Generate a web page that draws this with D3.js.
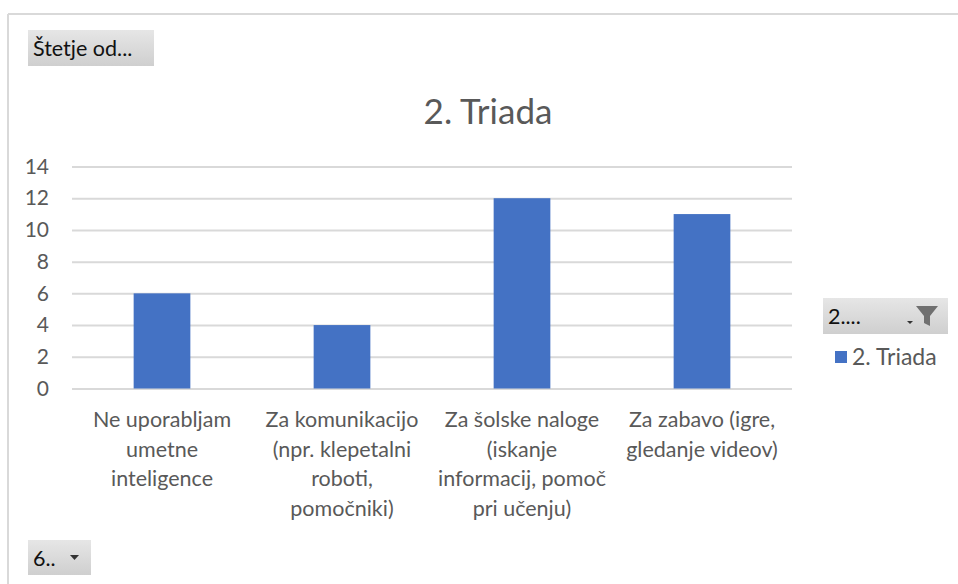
<!DOCTYPE html>
<html>
<head>
<meta charset="utf-8">
<script src="https://cdn.jsdelivr.net/npm/d3@7"></script>
<style>
  body { margin: 0; background: #fff; }
  svg { display: block; font-family: Lato, "Open Sans", sans-serif; }
</style>
</head>
<body>
<svg id="chart" width="958" height="584"></svg>
<script>
// Podatki
const categories = [
  ['Ne uporabljam', 'umetne', 'inteligence'],
  ['Za komunikacijo', '(npr. klepetalni', 'roboti,', 'pomočniki)'],
  ['Za šolske naloge', '(iskanje', 'informacij, pomoč', 'pri učenju)'],
  ['Za zabavo (igre,', 'gledanje videov)']
];
const values = [6, 4, 12, 11];
const yTicks = [0, 2, 4, 6, 8, 10, 12, 14];
const seriesName = '2. Triada';

const svg = d3.select('#chart');
const textColor = '#595959';
const barColor = '#4472c4';

// okvir
svg.append('line').attr('x1', 8).attr('x2', 958).attr('y1', 14).attr('y2', 14)
  .attr('stroke', '#d9d9d9').attr('stroke-width', 2);
svg.append('line').attr('x1', 8).attr('x2', 8).attr('y1', 14).attr('y2', 584)
  .attr('stroke', '#d9d9d9').attr('stroke-width', 2);

const plot = { left: 72, right: 792, top: 166.5, bottom: 388.5 };

const x = d3.scaleBand()
  .domain(d3.range(categories.length))
  .range([plot.left, plot.right])
  .paddingInner(0.685)
  .paddingOuter(0.3425);

const y = d3.scaleLinear().domain([0, 14]).range([plot.bottom, plot.top]);

// mreža
svg.append('g')
  .attr('transform', `translate(${plot.left},0)`)
  .call(d3.axisLeft(y).tickValues(yTicks).tickSize(-(plot.right - plot.left)).tickPadding(23))
  .call(g => g.select('.domain').remove())
  .call(g => g.selectAll('.tick line').attr('stroke', '#d9d9d9').attr('stroke-width', 2))
  .call(g => g.selectAll('.tick text').attr('fill', textColor).attr('font-size', 21)
    .attr('font-family', 'Lato, sans-serif'));

// stolpci
svg.append('g').selectAll('rect')
  .data(values)
  .join('rect')
  .attr('x', (d, i) => x(i))
  .attr('width', x.bandwidth())
  .attr('y', d => y(d))
  .attr('height', d => y(0) - y(d))
  .attr('fill', barColor);

// oznake kategorij
svg.append('g').selectAll('text')
  .data(categories)
  .join('text')
  .attr('text-anchor', 'middle')
  .attr('fill', textColor)
  .attr('font-size', 21.5)
  .each(function(lines, i) {
    const cx = x(i) + x.bandwidth() / 2;
    d3.select(this).selectAll('tspan')
      .data(lines)
      .join('tspan')
      .attr('x', cx)
      .attr('y', (l, j) => 427 + j * 29.5)
      .text(l => l);
  });

// naslov
svg.append('text')
  .attr('x', 488).attr('y', 124)
  .attr('text-anchor', 'middle')
  .attr('fill', textColor)
  .attr('font-size', 35)
  .text(seriesName);

// gumbi
function button(x0, y0, w, h, label) {
  const grad = 'grad' + x0 + y0;
  const lg = svg.append('defs').append('linearGradient').attr('id', grad)
    .attr('x1', 0).attr('x2', 0).attr('y1', 0).attr('y2', 1);
  lg.append('stop').attr('offset', 0).attr('stop-color', '#e6e6e6');
  lg.append('stop').attr('offset', 1).attr('stop-color', '#cfcfcf');
  const g = svg.append('g').attr('transform', `translate(${x0},${y0})`);
  g.append('rect').attr('width', w).attr('height', h).attr('fill', `url(#${grad})`);
  g.append('text').attr('x', 5).attr('y', h / 2 + 8)
    .attr('font-size', 21.5).attr('fill', '#111').text(label);
  return g;
}

button(28, 30, 126, 36, 'Štetje od...');

const fb = button(823, 298, 125, 36, '2....');
fb.append('path').attr('d', 'M84,23 l6,0 l-3,3 z').attr('fill', '#333');
fb.append('path').attr('d', 'M93,8 l22,0 l-8,10 l0,10 l-6,-3 l0,-7 z').attr('fill', '#707070');

const sb = button(28, 540, 63, 35, '6..');
sb.append('path').attr('d', 'M42,15 l9,0 l-4.5,5 z').attr('fill', '#333');

// legenda
const legend = svg.append('g').attr('transform', 'translate(835,351)');
legend.append('rect').attr('width', 12).attr('height', 12).attr('fill', barColor);
legend.append('text').attr('x', 17).attr('y', 14).attr('font-size', 23)
  .attr('fill', textColor).text(seriesName);
</script>
</body>
</html>
